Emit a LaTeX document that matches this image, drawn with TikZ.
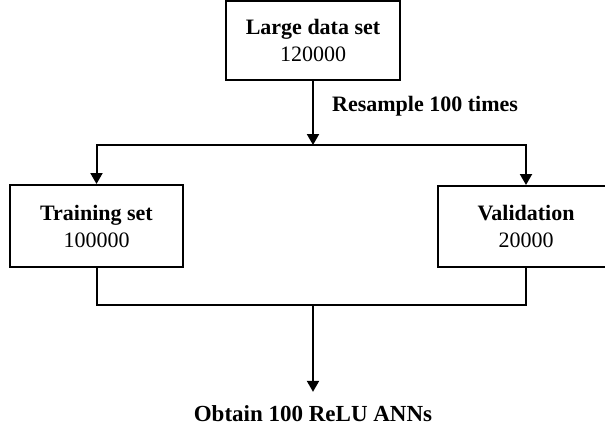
\documentclass[tikz,border=0pt]{standalone}
\usepackage{fontspec}
\setmainfont{Liberation Serif}
\usetikzlibrary{arrows.meta}

\tikzset{
  stagebox/.style={draw, line width=2pt, inner sep=0pt, align=center,
    font=\fontsize{22}{27}\selectfont},
  link/.style={line width=2pt},
  arrow/.style={link, -{Triangle[length=11pt,width=12pt]}}
}

\begin{document}
\begin{tikzpicture}[x=1pt,y=-1pt]
\useasboundingbox (0,0) rectangle (605,429);

\node[stagebox, minimum width=174pt, minimum height=79pt] (large) at (313,40.5) {\textbf{Large data set}\\120000};

\node[stagebox, minimum width=173pt, minimum height=82pt] (train) at (96.5,226) {\textbf{Training set}\\100000};
\node[stagebox, minimum width=176pt, minimum height=81pt] (valid) at (526,226.5) {\textbf{Validation}\\20000};

\node[anchor=base west, inner sep=0pt, font=\fontsize{22}{27}\selectfont\bfseries] (resample) at (332,111) {Resample 100 times};
\node[anchor=base, inner xsep=0pt, inner ysep=13pt, font=\fontsize{23}{28}\selectfont\bfseries] (result) at (313,421) {Obtain 100 ReLU ANNs};

\coordinate (split) at (313,145);
\coordinate (merge) at (313,305);

\draw[arrow] (large.south) -- (split);
\draw[arrow] (split) -| (train.north);
\draw[arrow] (split) -| (valid.north);

\draw[link] (train.south) |- (merge);
\draw[link] (valid.south) |- (merge);
\draw[arrow] (merge) -- (result.north);
\end{tikzpicture}
\end{document}
